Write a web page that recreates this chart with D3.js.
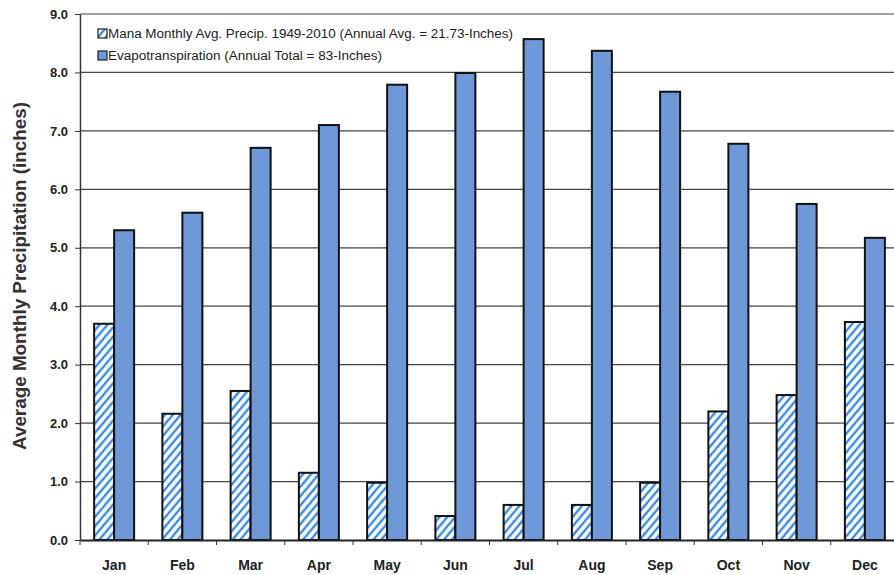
<!DOCTYPE html>
<html><head><meta charset="utf-8">
<script src="https://cdn.jsdelivr.net/npm/d3@7"></script>
<style>body{margin:0;background:#fff}svg{display:block}</style>
</head><body>
<svg id="c" width="894" height="575"></svg>
<script>
const months = ["Jan","Feb","Mar","Apr","May","Jun","Jul","Aug","Sep","Oct","Nov","Dec"];
const precip = [3.70,2.16,2.55,1.15,0.98,0.41,0.60,0.60,0.98,2.20,2.48,3.73];
const evapo  = [5.30,5.60,6.71,7.10,7.79,7.99,8.57,8.37,7.67,6.78,5.75,5.17];
const yTicks = [0,1,2,3,4,5,6,7,8,9];
const seriesNames = ["Mana Monthly Avg. Precip. 1949-2010 (Annual Avg. = 21.73-Inches)","Evapotranspiration (Annual Total = 83-Inches)"];

const svg = d3.select("#c");
const m = {l:80, r:-5, t:14, b:35};
const W = 894, H = 575;
const FONT = "Liberation Sans, Arial, sans-serif";
const x = d3.scaleBand().domain(months).range([m.l, W - m.r]).paddingInner(0).paddingOuter(0);
const y = d3.scaleLinear().domain([0,9]).range([H - m.b, m.t]);
const xs = d3.scaleBand().domain([0,1]).range([0, 40]);

const defs = svg.append("defs");
const pat = defs.append("pattern").attr("id","hatch").attr("patternUnits","userSpaceOnUse")
  .attr("width",6).attr("height",6).attr("patternTransform","rotate(40)");
pat.append("rect").attr("width",6).attr("height",6).attr("fill","#fff");
pat.append("line").attr("x1",3).attr("y1",-1).attr("x2",3).attr("y2",7)
  .attr("stroke","#3a8be0").attr("stroke-width",2.4);

// gridlines
svg.append("g").selectAll("line").data(yTicks.slice(1)).join("line")
  .attr("x1", m.l).attr("x2", W).attr("y1", d=>y(d)).attr("y2", d=>y(d))
  .attr("stroke","#444").attr("stroke-width",1.2);

// bars
const g = svg.append("g");
months.forEach((mo,i)=>{
  const x0 = x(mo) + (x.bandwidth()-40)/2;
  g.append("rect").attr("x", x0 + xs(0)).attr("y", y(precip[i])).attr("width", xs.bandwidth())
   .attr("height", y(0)-y(precip[i])).attr("fill","url(#hatch)").attr("stroke","#111").attr("stroke-width",2);
  g.append("rect").attr("x", x0 + xs(1)).attr("y", y(evapo[i])).attr("width", xs.bandwidth())
   .attr("height", y(0)-y(evapo[i])).attr("fill","#6f98d8").attr("stroke","#111").attr("stroke-width",2);
});

// y axis
const ya = svg.append("g").attr("transform",`translate(${m.l},0)`)
  .call(d3.axisLeft(y).tickValues(yTicks).tickFormat(d3.format(".1f")).tickSize(5).tickSizeOuter(0));
ya.select(".domain").attr("stroke","#333").attr("stroke-width",1.5);
ya.selectAll(".tick line").attr("stroke","#333");
ya.selectAll("text").attr("font-family",FONT).attr("font-weight","bold")
  .attr("font-size",13).attr("fill","#222").attr("x",-12);

// x axis
const xa = svg.append("g").attr("transform",`translate(0,${y(0)})`)
  .call(d3.axisBottom(x).tickSize(0).tickSizeOuter(0));
xa.select(".domain").attr("stroke","#222").attr("stroke-width",2);
xa.selectAll("text").attr("font-family",FONT).attr("font-weight","bold")
  .attr("font-size",14).attr("fill","#222").attr("dy",0).attr("y",30);
svg.append("g").selectAll("line").data(months).join("line")
  .attr("x1",d=>x(d)).attr("x2",d=>x(d)).attr("y1",y(0)).attr("y2",y(0)+5).attr("stroke","#333");

// y label
svg.append("text").attr("transform",`translate(26,276) rotate(-90)`)
  .attr("text-anchor","middle").attr("font-family",FONT)
  .attr("font-weight","bold").attr("font-size",18).attr("fill","#333")
  .attr("textLength",348).attr("lengthAdjust","spacingAndGlyphs")
  .text("Average Monthly Precipitation (inches)");

// legend
const lg = svg.append("g").attr("font-family",FONT).attr("font-size",12.5).attr("fill","#222");
const lfills = ["url(#hatch)","#6f98d8"];
const lwidths = [405, 274];
seriesNames.forEach((nm,i)=>{
  const yy = 38 + i*22;
  lg.append("rect").attr("x",98).attr("y",yy-9).attr("width",9).attr("height",9)
    .attr("fill",lfills[i]).attr("stroke","#222").attr("stroke-width",1.2);
  lg.append("text").attr("x",108).attr("y",yy).attr("textLength",lwidths[i])
    .attr("lengthAdjust","spacingAndGlyphs").text(nm);
});
</script>
</body></html>
